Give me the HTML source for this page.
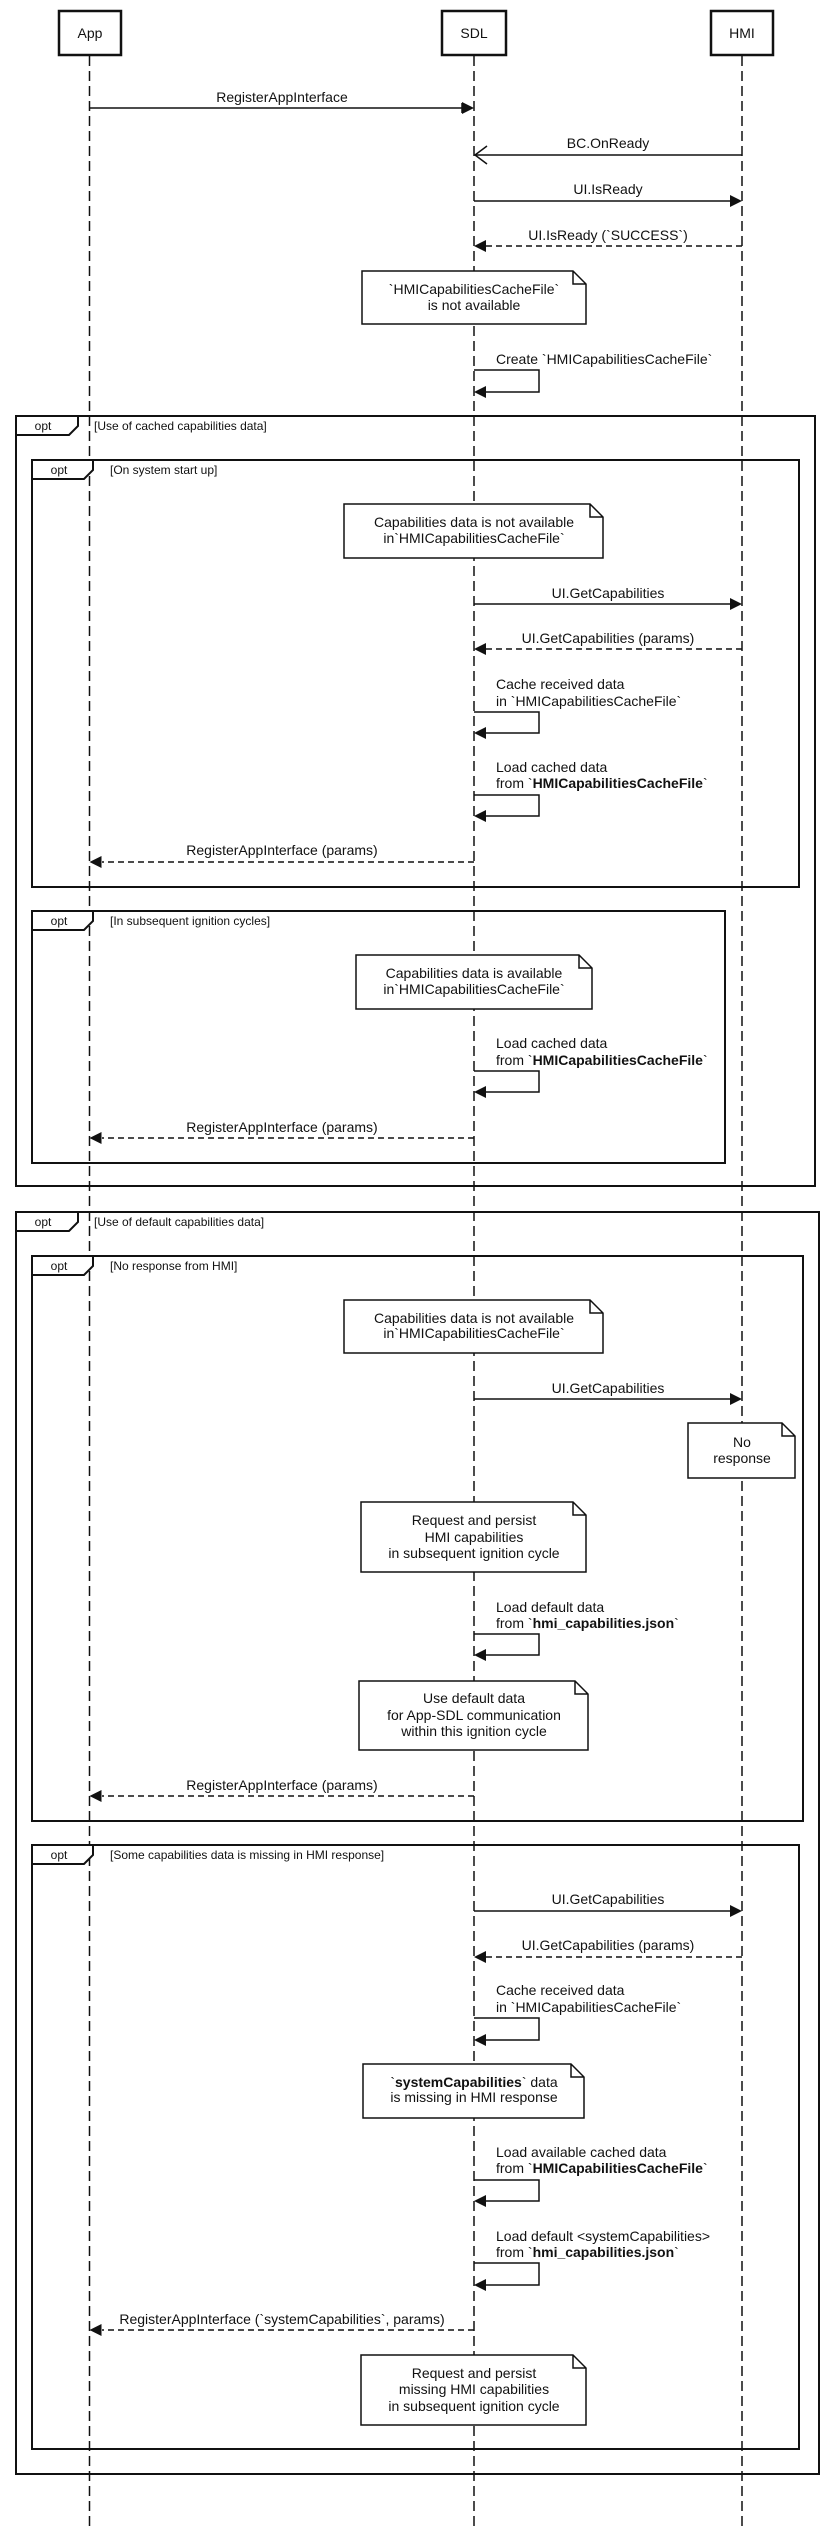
<!DOCTYPE html>
<html><head><meta charset="utf-8"><style>
html,body{margin:0;padding:0;background:#fff}
svg{display:block}
text{font-family:"Liberation Sans",Arial,sans-serif;font-size:14px;fill:#111}
.c{text-anchor:middle}
.b{font-weight:bold}
.g{font-size:12px}
</style></head><body>
<svg width="835" height="2531" viewBox="0 0 835 2531" xmlns="http://www.w3.org/2000/svg">
<g stroke="#111" fill="none">
<!-- lifelines -->
<line x1="89.5" y1="56" x2="89.5" y2="2531" stroke-width="1.5" stroke-dasharray="10,5"/>
<line x1="474" y1="56" x2="474" y2="2531" stroke-width="1.5" stroke-dasharray="10,5"/>
<line x1="742" y1="56" x2="742" y2="2531" stroke-width="1.5" stroke-dasharray="10,5"/>
<!-- participants -->
<rect x="59" y="11" width="62" height="44" stroke-width="2.5" fill="#fff"/>
<rect x="442" y="11" width="64" height="44" stroke-width="2.5" fill="#fff"/>
<rect x="711" y="11" width="62" height="44" stroke-width="2.5" fill="#fff"/>
<!-- frames -->
<rect x="16" y="416" width="799" height="770" stroke-width="2"/>
<polygon points="16,416 78,416 78,426 69,435 16,435" stroke-width="2" fill="#fff"/>
<rect x="32" y="460" width="767" height="427" stroke-width="2"/>
<polygon points="32,460 93,460 93,470 84,479 32,479" stroke-width="2" fill="#fff"/>
<rect x="32" y="911" width="693" height="252" stroke-width="2"/>
<polygon points="32,911 93,911 93,921 84,930 32,930" stroke-width="2" fill="#fff"/>
<rect x="16" y="1212" width="803" height="1262" stroke-width="2"/>
<polygon points="16,1212 78,1212 78,1222 69,1231 16,1231" stroke-width="2" fill="#fff"/>
<rect x="32" y="1256" width="771" height="565" stroke-width="2"/>
<polygon points="32,1256 93,1256 93,1266 84,1275 32,1275" stroke-width="2" fill="#fff"/>
<rect x="32" y="1845" width="767" height="604" stroke-width="2"/>
<polygon points="32,1845 93,1845 93,1855 84,1864 32,1864" stroke-width="2" fill="#fff"/>
<!-- notes -->
<g stroke-width="1.5" fill="#fff">
<path d="M362,271 H573 L586,284 V324 H362 Z M573,271 V284 H586"/>
<path d="M344,504 H590 L603,517 V558 H344 Z M590,504 V517 H603"/>
<path d="M356,955 H579 L592,968 V1009 H356 Z M579,955 V968 H592"/>
<path d="M344,1300 H590 L603,1313 V1353 H344 Z M590,1300 V1313 H603"/>
<path d="M688,1423 H782 L795,1436 V1478 H688 Z M782,1423 V1436 H795"/>
<path d="M361,1502 H573 L586,1515 V1572 H361 Z M573,1502 V1515 H586"/>
<path d="M359,1681 H575 L588,1694 V1750 H359 Z M575,1681 V1694 H588"/>
<path d="M363,2064 H571 L584,2077 V2118 H363 Z M571,2064 V2077 H584"/>
<path d="M361,2355 H573 L586,2368 V2425 H361 Z M573,2355 V2368 H586"/>
</g>
<!-- messages -->
<g stroke-width="1.5">
<line x1="89.5" y1="108" x2="462" y2="108"/>
<polyline points="462,103 462,113"/>
<line x1="742" y1="155" x2="475" y2="155"/>
<polyline points="487,146 475,155 487,164"/>
<line x1="474" y1="201" x2="730" y2="201"/>
<line x1="742" y1="246" x2="486" y2="246" stroke-dasharray="6,4"/>
<line x1="474" y1="604" x2="730" y2="604"/>
<line x1="742" y1="649" x2="486" y2="649" stroke-dasharray="6,4"/>
<line x1="474" y1="862" x2="102" y2="862" stroke-dasharray="6,4"/>
<line x1="474" y1="1138" x2="102" y2="1138" stroke-dasharray="6,4"/>
<line x1="474" y1="1399" x2="730" y2="1399"/>
<line x1="474" y1="1796" x2="102" y2="1796" stroke-dasharray="6,4"/>
<line x1="474" y1="1911" x2="730" y2="1911"/>
<line x1="742" y1="1957" x2="486" y2="1957" stroke-dasharray="6,4"/>
<line x1="474" y1="2330" x2="102" y2="2330" stroke-dasharray="6,4"/>
<!-- self loops -->
<polyline points="474,370 539,370 539,392 486,392"/>
<polyline points="474,712 539,712 539,733 486,733"/>
<polyline points="474,795 539,795 539,816 486,816"/>
<polyline points="474,1071 539,1071 539,1092 486,1092"/>
<polyline points="474,1634 539,1634 539,1655 486,1655"/>
<polyline points="474,2018 539,2018 539,2040 486,2040"/>
<polyline points="474,2180 539,2180 539,2201 486,2201"/>
<polyline points="474,2263 539,2263 539,2285 486,2285"/>
</g>
</g>
<!-- arrowheads -->
<g fill="#111">
<polygon points="474,108 462,102 462,114"/>
<polygon points="742,201 730,195 730,207"/>
<polygon points="474,246 486,240 486,252"/>
<polygon points="474,392 486,386 486,398"/>
<polygon points="742,604 730,598 730,610"/>
<polygon points="474,649 486,643 486,655"/>
<polygon points="474,733 486,727 486,739"/>
<polygon points="474,816 486,810 486,822"/>
<polygon points="89.5,862 101.5,856 101.5,868"/>
<polygon points="474,1092 486,1086 486,1098"/>
<polygon points="89.5,1138 101.5,1132 101.5,1144"/>
<polygon points="742,1399 730,1393 730,1405"/>
<polygon points="474,1655 486,1649 486,1661"/>
<polygon points="89.5,1796 101.5,1790 101.5,1802"/>
<polygon points="742,1911 730,1905 730,1917"/>
<polygon points="474,1957 486,1951 486,1963"/>
<polygon points="474,2040 486,2034 486,2046"/>
<polygon points="474,2201 486,2195 486,2207"/>
<polygon points="474,2285 486,2279 486,2291"/>
<polygon points="89.5,2330 101.5,2324 101.5,2336"/>
</g>
<!-- participant labels -->
<text class="c" x="90" y="38">App</text>
<text class="c" x="474" y="38">SDL</text>
<text class="c" x="742" y="38">HMI</text>
<!-- frame labels -->
<text class="c g" x="43" y="430">opt</text><text class="g" x="94" y="430">[Use of cached capabilities data]</text>
<text class="c g" x="59" y="474">opt</text><text class="g" x="110" y="474">[On system start up]</text>
<text class="c g" x="59" y="925">opt</text><text class="g" x="110" y="925">[In subsequent ignition cycles]</text>
<text class="c g" x="43" y="1226">opt</text><text class="g" x="94" y="1226">[Use of default capabilities data]</text>
<text class="c g" x="59" y="1270">opt</text><text class="g" x="110" y="1270">[No response from HMI]</text>
<text class="c g" x="59" y="1859">opt</text><text class="g" x="110" y="1859">[Some capabilities data is missing in HMI response]</text>
<!-- message labels -->
<text class="c" x="282" y="102">RegisterAppInterface</text>
<text class="c" x="608" y="148">BC.OnReady</text>
<text class="c" x="608" y="194">UI.IsReady</text>
<text class="c" x="608" y="240">UI.IsReady (`SUCCESS`)</text>
<text class="c" x="608" y="598">UI.GetCapabilities</text>
<text class="c" x="608" y="643">UI.GetCapabilities (params)</text>
<text class="c" x="282" y="855">RegisterAppInterface (params)</text>
<text class="c" x="282" y="1132">RegisterAppInterface (params)</text>
<text class="c" x="608" y="1393">UI.GetCapabilities</text>
<text class="c" x="282" y="1790">RegisterAppInterface (params)</text>
<text class="c" x="608" y="1904">UI.GetCapabilities</text>
<text class="c" x="608" y="1950">UI.GetCapabilities (params)</text>
<text class="c" x="282" y="2324">RegisterAppInterface (`systemCapabilities`, params)</text>
<!-- self labels -->
<text x="496" y="364">Create `HMICapabilitiesCacheFile`</text>
<text x="496" y="689">Cache received data</text><text x="496" y="706">in `HMICapabilitiesCacheFile`</text>
<text x="496" y="772">Load cached data</text><text x="496" y="788">from `<tspan class="b">HMICapabilitiesCacheFile</tspan>`</text>
<text x="496" y="1048">Load cached data</text><text x="496" y="1065">from `<tspan class="b">HMICapabilitiesCacheFile</tspan>`</text>
<text x="496" y="1612">Load default data</text><text x="496" y="1628">from `<tspan class="b">hmi_capabilities.json</tspan>`</text>
<text x="496" y="1995">Cache received data</text><text x="496" y="2012">in `HMICapabilitiesCacheFile`</text>
<text x="496" y="2157">Load available cached data</text><text x="496" y="2173">from `<tspan class="b">HMICapabilitiesCacheFile</tspan>`</text>
<text x="496" y="2241">Load default &lt;systemCapabilities&gt;</text><text x="496" y="2257">from `<tspan class="b">hmi_capabilities.json</tspan>`</text>
<!-- note texts -->
<text class="c" x="474" y="294">`HMICapabilitiesCacheFile`</text><text class="c" x="474" y="310">is not available</text>
<text class="c" x="474" y="527">Capabilities data is not available</text><text class="c" x="474" y="543">in`HMICapabilitiesCacheFile`</text>
<text class="c" x="474" y="978">Capabilities data is available</text><text class="c" x="474" y="994">in`HMICapabilitiesCacheFile`</text>
<text class="c" x="474" y="1323">Capabilities data is not available</text><text class="c" x="474" y="1338">in`HMICapabilitiesCacheFile`</text>
<text class="c" x="742" y="1447">No</text><text class="c" x="742" y="1463">response</text>
<text class="c" x="474" y="1525">Request and persist</text><text class="c" x="474" y="1542">HMI capabilities</text><text class="c" x="474" y="1558">in subsequent ignition cycle</text>
<text class="c" x="474" y="1703">Use default data</text><text class="c" x="474" y="1720">for App-SDL communication</text><text class="c" x="474" y="1736">within this ignition cycle</text>
<text class="c" x="474" y="2087">`<tspan class="b">systemCapabilities</tspan>` data</text><text class="c" x="474" y="2102">is missing in HMI response</text>
<text class="c" x="474" y="2378">Request and persist</text><text class="c" x="474" y="2394">missing HMI capabilities</text><text class="c" x="474" y="2411">in subsequent ignition cycle</text>
</svg>
</body></html>
